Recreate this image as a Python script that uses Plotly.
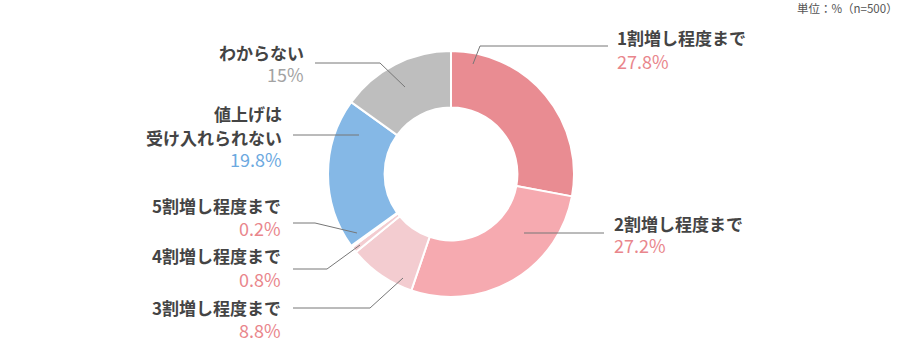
import plotly.graph_objects as go

# Data
categories = ["1割増し程度まで", "2割増し程度まで", "3割増し程度まで", "4割増し程度まで",
              "5割増し程度まで", "値上げは<br>受け入れられない", "わからない"]
values = [27.8, 27.2, 8.8, 0.8, 0.2, 19.8, 15]
pct_labels = ["27.8%", "27.2%", "8.8%", "0.8%", "0.2%", "19.8%", "15%"]
slice_colors = ["#E98C92", "#F6AAB0", "#F3CCD0", "#F3CCD0", "#F3CCD0", "#85B8E6", "#BEBEBE"]
pct_colors = ["#E9868C", "#E9868C", "#E9868C", "#E9868C", "#E9868C", "#6CA9DF", "#A3A3A3"]

W, H = 910, 341
FONT = "Noto Sans CJK JP"
TEXT_COLOR = "#444444"
LINE_COLOR = "#777777"

fig = go.Figure()
fig.add_trace(go.Pie(
    labels=[c.replace("<br>", "") for c in categories],
    values=values,
    sort=False,
    direction="clockwise",
    rotation=0,
    hole=0.54,
    textinfo="none",
    hoverinfo="label+percent",
    marker=dict(colors=slice_colors, line=dict(color="white", width=2)),
    domain=dict(x=[328 / W, 574 / W], y=[1 - 297 / H, 1 - 51 / H]),
    showlegend=False,
))

# invisible pixel-space axes for leader lines and labels
fig.add_trace(go.Scatter(x=[0, W], y=[0, H], mode="markers", marker=dict(opacity=0),
                         hoverinfo="skip", showlegend=False))

# label layout: (side, anchor x, label line centers y, pct y, leader polyline)
layout_info = [
    ("left", 615, [37], 61, [(473, 64), (480, 46), (608, 46)]),
    ("left", 612, [223], 245, [(524, 233), (604, 233)]),
    ("right", 283, [307], 330, [(403, 278), (370, 308), (293, 308)]),
    ("right", 283, [255], 279, [(360, 245), (327, 269), (293, 269)]),
    ("right", 283, [205], 228, [(357, 233), (315, 223), (293, 223)]),
    ("right", 284, [113, 137], 159, [(359, 135), (293, 135)]),
    ("right", 306, [52], 74, [(405, 87), (380, 63), (315, 63)]),
]

annotations = []
shapes = []
for i, (side, ax, ys, py, pts) in enumerate(layout_info):
    lines = categories[i].split("<br>")
    for txt, yy in zip(lines, ys):
        annotations.append(dict(
            x=ax, y=yy, xref="x", yref="y", text=txt, showarrow=False,
            xanchor=side, yanchor="middle",
            font=dict(family=FONT, size=17, color=TEXT_COLOR, weight=700),
        ))
    annotations.append(dict(
        x=ax, y=py, xref="x", yref="y", text=pct_labels[i], showarrow=False,
        xanchor=side, yanchor="middle",
        font=dict(family=FONT, size=18, color=pct_colors[i], weight=400),
    ))
    path = "M " + " L ".join(f"{x},{y}" for x, y in pts)
    shapes.append(dict(type="path", path=path, xref="x", yref="y",
                       line=dict(color=LINE_COLOR, width=1)))

annotations.append(dict(
    x=900, y=8, xref="x", yref="y", text="単位：%（n=500）", showarrow=False,
    xanchor="right", yanchor="middle",
    font=dict(family=FONT, size=11.5, color="#555555"),
))

fig.update_layout(
    width=W, height=H,
    margin=dict(l=0, r=0, t=0, b=0),
    paper_bgcolor="white", plot_bgcolor="rgba(0,0,0,0)",
    xaxis=dict(range=[0, W], visible=False, fixedrange=True),
    yaxis=dict(range=[H, 0], visible=False, fixedrange=True),
    annotations=annotations,
    shapes=shapes,
)

fig.write_html("out.html")
